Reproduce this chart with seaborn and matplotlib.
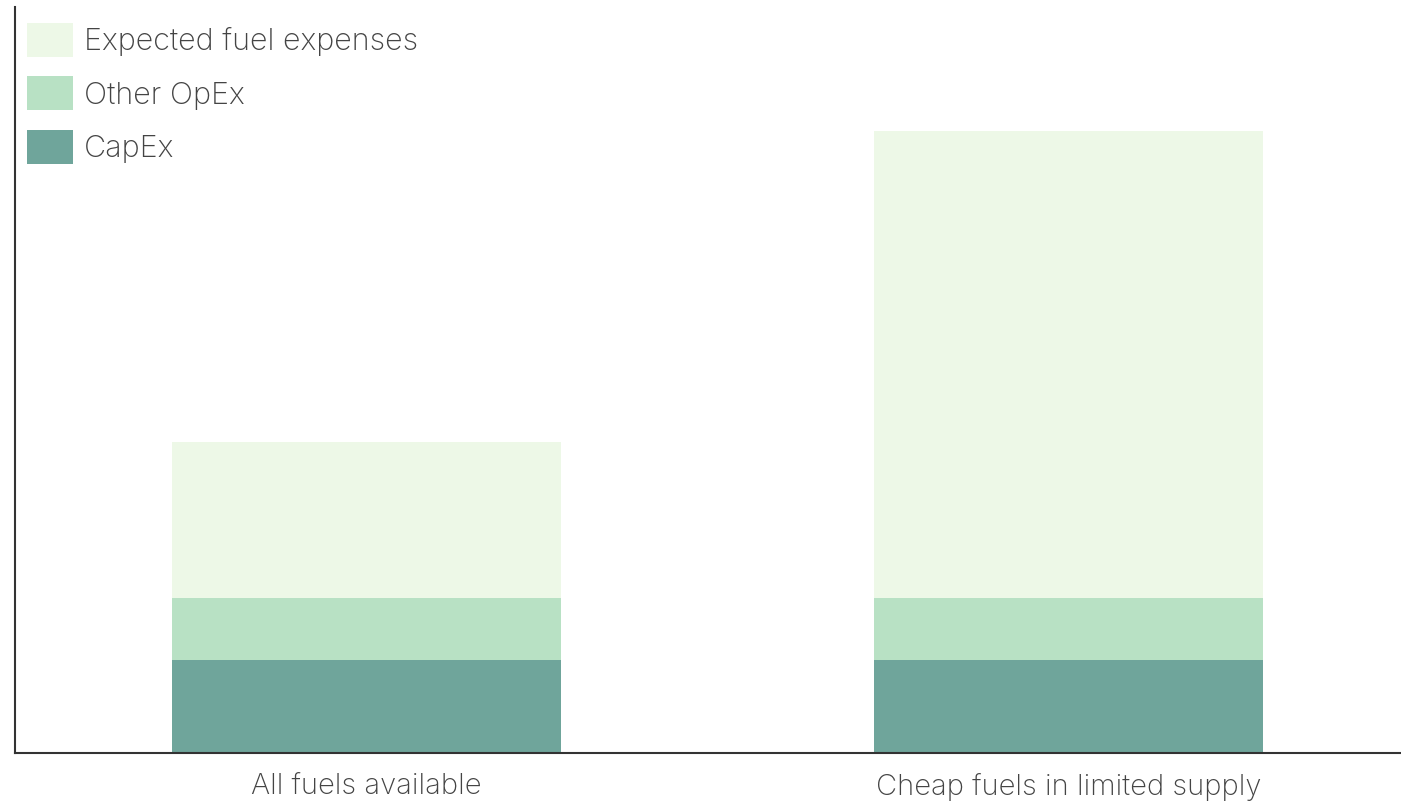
# -*- coding: utf-8 -*-

## Libraries ##

import pandas as pd
import matplotlib.pyplot as plt
import seaborn as sns
from matplotlib.patches import Patch

## Data ##

scenarios = ["All fuels available", "Cheap fuels in limited supply"]
capex = [3, 3]
other_opex = [2, 2]
fuel_expenses = [5, 15]

colors = {"Expected fuel expenses": "#edf8e7",
          "Other OpEx": "#b8e1c4",
          "CapEx": "#6fa59b"}

df = pd.DataFrame({"Scenario": scenarios,
                   "CapEx": capex,
                   "Other OpEx": other_opex,
                   "Fuel": fuel_expenses})
# cumulative heights, drawn back to front #
df["Level1"] = df["CapEx"]
df["Level2"] = df["CapEx"] + df["Other OpEx"]
df["Level3"] = df["Level2"] + df["Fuel"]

## Plot ##

sns.set_style("white")
plt.rcParams['font.family'] = ['Inter', 'DejaVu Sans']

fig = plt.figure(figsize=(14.01, 8.02), dpi=100)
ax = fig.add_axes([15/1401, 49/802, 1 - 15/1401, 1 - 56/802])

for col, name in [("Level3", "Expected fuel expenses"),
                  ("Level2", "Other OpEx"),
                  ("Level1", "CapEx")]:
    sns.barplot(data=df, x="Scenario", y=col, color=colors[name],
                saturation=1, width=0.554, ax=ax, linewidth=0)

ax.set_xlim(-0.5, 1.474)
ax.set_ylim(0, 24)
ax.set_xlabel("")
ax.set_ylabel("")
ax.set_yticks([])
ax.tick_params(axis='x', length=0, pad=14.5, labelsize=21, labelcolor="#444444")
for lbl in ax.get_xticklabels():
    lbl.set_fontweight("light")
sns.despine(ax=ax, top=True, right=True)
for side in ["left", "bottom"]:
    ax.spines[side].set_color("#333333")
    ax.spines[side].set_linewidth(1.5)

handles = [Patch(facecolor=colors[k], edgecolor="none", label=k) for k in colors]
leg = ax.legend(handles=handles, loc="upper left", bbox_to_anchor=(12/1386, 1 - 16/746),
                frameon=False, handlelength=1.5, handleheight=1.33,
                handletextpad=0.36, labelspacing=0.64, borderpad=0, borderaxespad=0,
                prop={"weight": "light", "size": 22})
for t in leg.get_texts():
    t.set_color("#444444")

plt.savefig("out.png", dpi=100)
